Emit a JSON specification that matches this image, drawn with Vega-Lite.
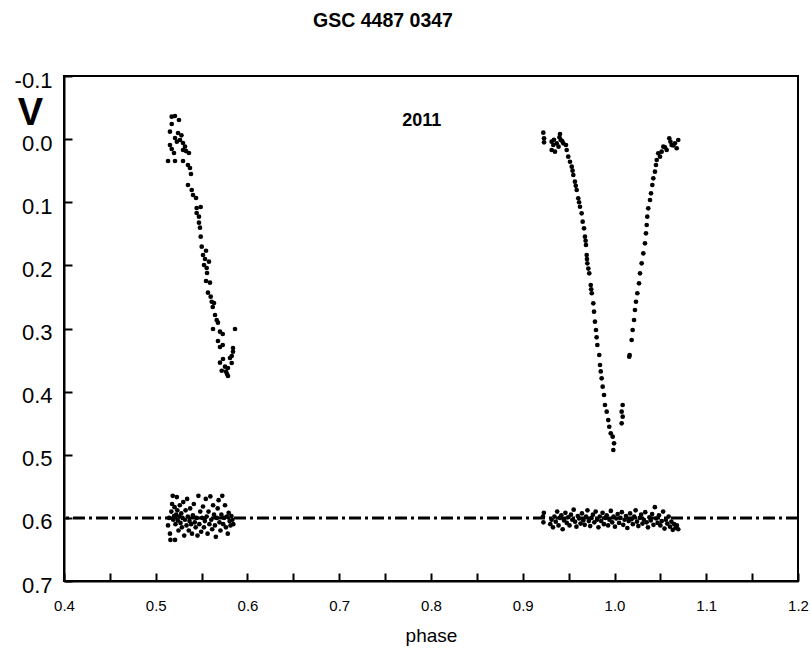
{
"$schema": "https://vega.github.io/schema/vega-lite/v6.json",
"width": 734, "height": 505,
"autosize": {"type": "none"},
"padding": {"left": 64, "top": 76, "right": 13, "bottom": 74},
"background": "white",
"title": {"text": "GSC 4487 0347", "fontSize": 19.5, "font": "Liberation Sans", "fontWeight": "bold", "color": "black", "offset": 38, "dx": -48},
"config": {"view": {"stroke": "black", "strokeWidth": 2}, "font": "Liberation Sans"},
"datasets": {
"obs": [
{"phase":0.5174,"mag":-0.0355},{"phase":0.5210,"mag":-0.0366},{"phase":0.5253,"mag":-0.0303},{"phase":0.5174,"mag":-0.0240},{"phase":0.5155,"mag":-0.0118},{"phase":0.5243,"mag":-0.0097},{"phase":0.5210,"mag":-0.0018},{"phase":0.5264,"mag":0.0014},{"phase":0.5297,"mag":0.0061},{"phase":0.5155,"mag":0.0093},{"phase":0.5174,"mag":0.0156},{"phase":0.5297,"mag":0.0172},{"phase":0.5319,"mag":0.0120},{"phase":0.5199,"mag":0.0220},{"phase":0.5362,"mag":0.0220},{"phase":0.5134,"mag":0.0347},{"phase":0.5210,"mag":0.0347},{"phase":0.5297,"mag":0.0347},{"phase":0.5351,"mag":0.0410},{"phase":0.5373,"mag":0.0457},{"phase":0.5384,"mag":0.0552},{"phase":0.5230,"mag":0.0040},{"phase":0.5280,"mag":-0.0060},{"phase":0.5330,"mag":0.0190},
{"phase":0.5351,"mag":0.0727},{"phase":0.5392,"mag":0.0806},{"phase":0.5406,"mag":0.0885},{"phase":0.5439,"mag":0.0933},{"phase":0.5446,"mag":0.1091},{"phase":0.5490,"mag":0.1075},{"phase":0.5446,"mag":0.1170},{"phase":0.5471,"mag":0.1229},{"phase":0.5471,"mag":0.1324},{"phase":0.5482,"mag":0.1403},{"phase":0.5490,"mag":0.1546},{"phase":0.5501,"mag":0.1704},{"phase":0.5548,"mag":0.1768},{"phase":0.5515,"mag":0.1836},{"phase":0.5537,"mag":0.1899},{"phase":0.5580,"mag":0.1942},{"phase":0.5526,"mag":0.1994},{"phase":0.5555,"mag":0.2042},{"phase":0.5559,"mag":0.2121},{"phase":0.5548,"mag":0.2248},{"phase":0.5591,"mag":0.2274},{"phase":0.5569,"mag":0.2433},{"phase":0.5599,"mag":0.2496},{"phase":0.5610,"mag":0.2576},{"phase":0.5635,"mag":0.2596},{"phase":0.5621,"mag":0.2659},{"phase":0.5646,"mag":0.2786},{"phase":0.5664,"mag":0.2865},{"phase":0.5678,"mag":0.2908},{"phase":0.5624,"mag":0.3008},{"phase":0.5864,"mag":0.3008},{"phase":0.5700,"mag":0.3051},{"phase":0.5730,"mag":0.3087},{"phase":0.5678,"mag":0.3198},{"phase":0.5730,"mag":0.3261},{"phase":0.5700,"mag":0.3293},{"phase":0.5842,"mag":0.3309},{"phase":0.5842,"mag":0.3368},{"phase":0.5828,"mag":0.3436},{"phase":0.5809,"mag":0.3467},{"phase":0.5733,"mag":0.3483},{"phase":0.5700,"mag":0.3542},{"phase":0.5828,"mag":0.3547},{"phase":0.5755,"mag":0.3605},{"phase":0.5787,"mag":0.3626},{"phase":0.5719,"mag":0.3669},{"phase":0.5766,"mag":0.3684},{"phase":0.5777,"mag":0.3721},{"phase":0.5787,"mag":0.3752},
{"phase":0.9224,"mag":-0.0102},{"phase":0.9232,"mag":-0.0013},{"phase":0.9232,"mag":0.0050},{"phase":0.9315,"mag":0.0041},{"phase":0.9333,"mag":0.0093},{"phase":0.9315,"mag":0.0172},{"phase":0.9351,"mag":0.0199},{"phase":0.9370,"mag":0.0066},{"phase":0.9406,"mag":-0.0081},{"phase":0.9414,"mag":0.0014},{"phase":0.9442,"mag":0.0066},{"phase":0.9471,"mag":0.0093},{"phase":0.9479,"mag":0.0172},{"phase":0.9340,"mag":0.0010},{"phase":0.9390,"mag":0.0120},{"phase":0.9430,"mag":0.0030},{"phase":0.9400,"mag":-0.0030},
{"phase":0.9496,"mag":0.0278},{"phase":0.9515,"mag":0.0358},{"phase":0.9534,"mag":0.0437},{"phase":0.9543,"mag":0.0500},{"phase":0.9551,"mag":0.0568},{"phase":0.9569,"mag":0.0674},{"phase":0.9578,"mag":0.0740},{"phase":0.9588,"mag":0.0806},{"phase":0.9605,"mag":0.0937},{"phase":0.9614,"mag":0.1000},{"phase":0.9624,"mag":0.1071},{"phase":0.9642,"mag":0.1175},{"phase":0.9653,"mag":0.1308},{"phase":0.9668,"mag":0.1413},{"phase":0.9678,"mag":0.1546},{"phase":0.9685,"mag":0.1610},{"phase":0.9689,"mag":0.1677},{"phase":0.9697,"mag":0.1836},{"phase":0.9700,"mag":0.1900},{"phase":0.9704,"mag":0.1967},{"phase":0.9715,"mag":0.2050},{"phase":0.9725,"mag":0.2126},{"phase":0.9741,"mag":0.2311},{"phase":0.9746,"mag":0.2380},{"phase":0.9752,"mag":0.2442},{"phase":0.9769,"mag":0.2601},{"phase":0.9777,"mag":0.2734},{"phase":0.9787,"mag":0.2892},{"phase":0.9798,"mag":0.3024},{"phase":0.9805,"mag":0.3140},{"phase":0.9813,"mag":0.3261},{"phase":0.9834,"mag":0.3420},{"phase":0.9842,"mag":0.3578},{"phase":0.9850,"mag":0.3680},{"phase":0.9860,"mag":0.3789},{"phase":0.9871,"mag":0.3922},{"phase":0.9886,"mag":0.4053},{"phase":0.9896,"mag":0.4212},{"phase":0.9915,"mag":0.4318},{"phase":0.9932,"mag":0.4450},{"phase":0.9943,"mag":0.4556},{"phase":0.9959,"mag":0.4660},{"phase":0.9980,"mag":0.4714},{"phase":0.9995,"mag":0.4819},{"phase":0.9987,"mag":0.4925},
{"phase":1.0695,"mag":0.0014},{"phase":1.0659,"mag":0.0066},{"phase":1.0678,"mag":0.0145},{"phase":1.0623,"mag":0.0093},{"phase":1.0597,"mag":-0.0013},{"phase":1.0569,"mag":0.0172},{"phase":1.0532,"mag":0.0120},{"phase":1.0514,"mag":0.0199},{"phase":1.0477,"mag":0.0225},{"phase":1.0496,"mag":0.0278},{"phase":1.0640,"mag":0.0100},{"phase":1.0610,"mag":0.0040},{"phase":1.0550,"mag":0.0130},
{"phase":1.0460,"mag":0.0331},{"phase":1.0452,"mag":0.0410},{"phase":1.0441,"mag":0.0516},{"phase":1.0423,"mag":0.0621},{"phase":1.0412,"mag":0.0727},{"phase":1.0398,"mag":0.0858},{"phase":1.0387,"mag":0.0964},{"phase":1.0368,"mag":0.1096},{"phase":1.0357,"mag":0.1229},{"phase":1.0351,"mag":0.1360},{"phase":1.0343,"mag":0.1492},{"phase":1.0332,"mag":0.1650},{"phase":1.0314,"mag":0.1809},{"phase":1.0296,"mag":0.1967},{"phase":1.0278,"mag":0.2126},{"phase":1.0267,"mag":0.2284},{"phase":1.0249,"mag":0.2442},{"phase":1.0234,"mag":0.2576},{"phase":1.0223,"mag":0.2707},{"phase":1.0213,"mag":0.2865},{"phase":1.0198,"mag":0.3024},{"phase":1.0187,"mag":0.3182},{"phase":1.0161,"mag":0.3447},{"phase":1.0165,"mag":0.3420},{"phase":1.0089,"mag":0.4212},{"phase":1.0078,"mag":0.4318},{"phase":1.0089,"mag":0.4397},{"phase":1.0078,"mag":0.4502},
{"phase":0.5134,"mag":0.612},{"phase":0.5145,"mag":0.600},{"phase":0.5155,"mag":0.625},{"phase":0.5160,"mag":0.635},{"phase":0.5170,"mag":0.590},{"phase":0.5178,"mag":0.578},{"phase":0.5185,"mag":0.565},{"phase":0.5190,"mag":0.603},{"phase":0.5200,"mag":0.597},{"phase":0.5205,"mag":0.583},{"phase":0.5210,"mag":0.635},{"phase":0.5215,"mag":0.610},{"phase":0.5222,"mag":0.595},{"phase":0.5230,"mag":0.567},{"phase":0.5235,"mag":0.588},{"phase":0.5240,"mag":0.604},{"phase":0.5248,"mag":0.620},{"phase":0.5255,"mag":0.598},{"phase":0.5262,"mag":0.580},{"phase":0.5270,"mag":0.608},{"phase":0.5278,"mag":0.593},{"phase":0.5285,"mag":0.615},{"phase":0.5292,"mag":0.600},{"phase":0.5300,"mag":0.575},{"phase":0.5310,"mag":0.628},{"phase":0.5318,"mag":0.603},{"phase":0.5325,"mag":0.588},{"phase":0.5335,"mag":0.612},{"phase":0.5342,"mag":0.570},{"phase":0.5350,"mag":0.598},{"phase":0.5360,"mag":0.620},{"phase":0.5368,"mag":0.605},{"phase":0.5375,"mag":0.585},{"phase":0.5385,"mag":0.610},{"phase":0.5395,"mag":0.625},{"phase":0.5405,"mag":0.596},{"phase":0.5415,"mag":0.578},{"phase":0.5425,"mag":0.607},{"phase":0.5435,"mag":0.615},{"phase":0.5445,"mag":0.600},{"phase":0.5455,"mag":0.628},{"phase":0.5465,"mag":0.565},{"phase":0.5475,"mag":0.610},{"phase":0.5485,"mag":0.590},{"phase":0.5495,"mag":0.622},{"phase":0.5505,"mag":0.600},{"phase":0.5515,"mag":0.582},{"phase":0.5525,"mag":0.615},{"phase":0.5535,"mag":0.605},{"phase":0.5545,"mag":0.570},{"phase":0.5555,"mag":0.598},{"phase":0.5565,"mag":0.625},{"phase":0.5575,"mag":0.590},{"phase":0.5585,"mag":0.610},{"phase":0.5595,"mag":0.566},{"phase":0.5605,"mag":0.603},{"phase":0.5615,"mag":0.618},{"phase":0.5625,"mag":0.580},{"phase":0.5635,"mag":0.595},{"phase":0.5645,"mag":0.612},{"phase":0.5655,"mag":0.630},{"phase":0.5665,"mag":0.600},{"phase":0.5675,"mag":0.585},{"phase":0.5685,"mag":0.572},{"phase":0.5695,"mag":0.607},{"phase":0.5705,"mag":0.620},{"phase":0.5715,"mag":0.595},{"phase":0.5725,"mag":0.565},{"phase":0.5735,"mag":0.610},{"phase":0.5745,"mag":0.600},{"phase":0.5755,"mag":0.580},{"phase":0.5765,"mag":0.615},{"phase":0.5775,"mag":0.598},{"phase":0.5785,"mag":0.625},{"phase":0.5795,"mag":0.592},{"phase":0.5805,"mag":0.605},{"phase":0.5815,"mag":0.612},{"phase":0.5825,"mag":0.597},{"phase":0.5835,"mag":0.603},{"phase":0.5845,"mag":0.610},
{"phase":0.9220,"mag":0.598},{"phase":0.9225,"mag":0.607},{"phase":0.9230,"mag":0.592},{"phase":0.9300,"mag":0.610},{"phase":0.9315,"mag":0.603},{"phase":0.9330,"mag":0.615},{"phase":0.9345,"mag":0.598},{"phase":0.9360,"mag":0.606},{"phase":0.9375,"mag":0.590},{"phase":0.9390,"mag":0.612},{"phase":0.9405,"mag":0.600},{"phase":0.9420,"mag":0.596},{"phase":0.9435,"mag":0.618},{"phase":0.9450,"mag":0.604},{"phase":0.9465,"mag":0.592},{"phase":0.9480,"mag":0.608},{"phase":0.9495,"mag":0.599},{"phase":0.9510,"mag":0.612},{"phase":0.9525,"mag":0.595},{"phase":0.9540,"mag":0.603},{"phase":0.9555,"mag":0.587},{"phase":0.9570,"mag":0.606},{"phase":0.9585,"mag":0.614},{"phase":0.9600,"mag":0.597},{"phase":0.9615,"mag":0.601},{"phase":0.9630,"mag":0.609},{"phase":0.9645,"mag":0.593},{"phase":0.9660,"mag":0.604},{"phase":0.9675,"mag":0.611},{"phase":0.9690,"mag":0.598},{"phase":0.9705,"mag":0.588},{"phase":0.9720,"mag":0.605},{"phase":0.9735,"mag":0.613},{"phase":0.9750,"mag":0.600},{"phase":0.9765,"mag":0.595},{"phase":0.9780,"mag":0.607},{"phase":0.9795,"mag":0.590},{"phase":0.9810,"mag":0.603},{"phase":0.9825,"mag":0.615},{"phase":0.9840,"mag":0.598},{"phase":0.9855,"mag":0.605},{"phase":0.9870,"mag":0.592},{"phase":0.9885,"mag":0.610},{"phase":0.9900,"mag":0.600},{"phase":0.9915,"mag":0.596},{"phase":0.9930,"mag":0.612},{"phase":0.9945,"mag":0.603},{"phase":0.9960,"mag":0.589},{"phase":0.9975,"mag":0.607},{"phase":0.9990,"mag":0.598},{"phase":1.0005,"mag":0.614},{"phase":1.0020,"mag":0.601},{"phase":1.0035,"mag":0.594},{"phase":1.0050,"mag":0.608},{"phase":1.0065,"mag":0.600},{"phase":1.0080,"mag":0.591},{"phase":1.0095,"mag":0.611},{"phase":1.0110,"mag":0.603},{"phase":1.0125,"mag":0.597},{"phase":1.0140,"mag":0.616},{"phase":1.0155,"mag":0.605},{"phase":1.0170,"mag":0.593},{"phase":1.0185,"mag":0.602},{"phase":1.0200,"mag":0.610},{"phase":1.0215,"mag":0.598},{"phase":1.0230,"mag":0.588},{"phase":1.0245,"mag":0.606},{"phase":1.0260,"mag":0.613},{"phase":1.0275,"mag":0.600},{"phase":1.0290,"mag":0.595},{"phase":1.0305,"mag":0.609},{"phase":1.0320,"mag":0.603},{"phase":1.0335,"mag":0.591},{"phase":1.0350,"mag":0.607},{"phase":1.0365,"mag":0.615},{"phase":1.0380,"mag":0.599},{"phase":1.0395,"mag":0.604},{"phase":1.0410,"mag":0.594},{"phase":1.0425,"mag":0.611},{"phase":1.0440,"mag":0.583},{"phase":1.0455,"mag":0.601},{"phase":1.0470,"mag":0.608},{"phase":1.0485,"mag":0.596},{"phase":1.0500,"mag":0.612},{"phase":1.0515,"mag":0.605},{"phase":1.0530,"mag":0.590},{"phase":1.0545,"mag":0.617},{"phase":1.0560,"mag":0.603},{"phase":1.0575,"mag":0.609},{"phase":1.0590,"mag":0.598},{"phase":1.0605,"mag":0.614},{"phase":1.0620,"mag":0.606},{"phase":1.0635,"mag":0.619},{"phase":1.0650,"mag":0.610},{"phase":1.0665,"mag":0.616},{"phase":1.0680,"mag":0.612},{"phase":1.0695,"mag":0.618}
]
},
"layer": [
{
"data": {"name": "obs"},
"mark": {"type": "circle", "color": "black", "size": 22, "opacity": 1},
"encoding": {
"x": {"field": "phase", "type": "quantitative",
"scale": {"domain": [0.4, 1.2], "nice": false, "zero": false},
"axis": {"values": [0.4,0.45,0.5,0.55,0.6,0.65,0.7,0.75,0.8,0.85,0.9,0.95,1.0,1.05,1.1,1.15,1.2],
"labelExpr": "abs(datum.value*10 - round(datum.value*10)) < 0.001 ? format(datum.value, '.1f') : ''",
"tickSize": -8,
"encode": {"ticks": {"update": {"y2": {"signal": "abs(datum.value*10 - round(datum.value*10)) < 0.001 ? -8 : -4"}}}},
"tickWidth": 2, "tickColor": "black", "domainWidth": 2, "domainColor": "black",
"labelFontSize": 15, "labelColor": "black", "labelPadding": 25, "labelFlush": false, "labelOverlap": false,
"grid": false, "title": "phase", "titleFontSize": 19, "titleFontWeight": "normal", "titleColor": "black", "titlePadding": 13}},
"y": {"field": "mag", "type": "quantitative",
"scale": {"domain": [-0.1, 0.7], "nice": false, "zero": false, "reverse": true},
"axis": {"values": [-0.1,-0.05,0,0.05,0.1,0.15,0.2,0.25,0.3,0.35,0.4,0.45,0.5,0.55,0.6,0.65,0.7],
"labelExpr": "abs(datum.value*10 - round(datum.value*10)) < 0.001 ? (datum.value < -0.05 ? '-0.1' : format(datum.value, '.1f')) : ''",
"tickSize": -8,
"encode": {"ticks": {"update": {"x2": {"signal": "abs(datum.value*10 - round(datum.value*10)) < 0.001 ? 8 : 5"}}}},
"tickWidth": 2, "tickColor": "black", "domainWidth": 2, "domainColor": "black",
"labelFontSize": 22, "labelColor": "black", "labelPadding": 20, "labelOffset": 4, "labelOverlap": false, "labelFlush": false,
"grid": false, "title": "V", "titleAngle": 0, "titleFontSize": 38, "titleFontWeight": "bold", "titleColor": "black",
"titleX": -34, "titleY": 37, "titleAlign": "center", "titleBaseline": "middle"}}
}
},
{
"data": {"values": [{}]},
"mark": {"type": "rule", "color": "black", "strokeWidth": 3, "strokeDash": [12, 4, 3, 4]},
"encoding": {"y": {"datum": 0.6}}
},
{
"data": {"values": [{}]},
"mark": {"type": "text", "fontSize": 18, "fontWeight": "bold", "color": "black", "font": "Liberation Sans", "baseline": "middle", "align": "center"},
"encoding": {"x": {"datum": 0.79}, "y": {"datum": -0.029}, "text": {"value": "2011"}}
}
]
}
